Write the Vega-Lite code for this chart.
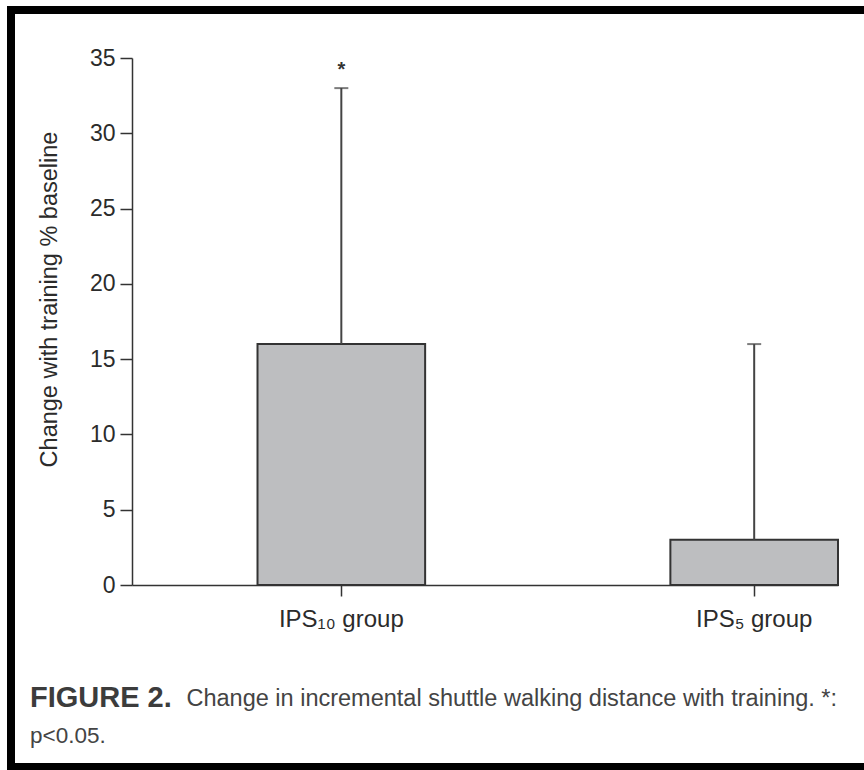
{
  "$schema": "https://vega.github.io/schema/vega-lite/v6.json",
  "autosize": {"type": "none"},
  "padding": {"left": 11, "top": 10, "right": 0, "bottom": 5},
  "width": 900,
  "height": 757,
  "background": "white",
  "config": {
    "font": "Liberation Sans",
    "view": {"stroke": "black", "strokeWidth": 8, "fill": "white"}
  },
  "title": {
    "text": "FIGURE 2.",
    "subtitle": "p<0.05.",
    "orient": "bottom",
    "anchor": "start",
    "frame": "group",
    "offset": -83,
    "dx": 19,
    "baseline": "top",
    "font": "Liberation Sans",
    "fontSize": 29,
    "fontWeight": "bold",
    "color": "#3c3c3c",
    "subtitleFont": "Liberation Sans",
    "subtitleFontSize": 22.5,
    "subtitleColor": "#444444",
    "subtitlePadding": 12
  },
  "data": {
    "values": [
      {"group": "IPS₁₀ group", "mean": 16, "upper": 33, "sig": "*"},
      {"group": "IPS₅ group", "mean": 3, "upper": 16, "sig": ""}
    ]
  },
  "encoding": {
    "x": {
      "field": "group",
      "type": "nominal",
      "sort": null,
      "scale": {"type": "band", "range": [121, 827], "paddingInner": 0.594, "paddingOuter": 0.152, "align": 1},
      "axis": {
        "title": "Change in incremental shuttle walking distance with training. *:",
        "orient": "bottom",
        "offset": -182,
        "labelAngle": 0,
        "labelFontSize": 24,
        "labelColor": "#2b2b2b",
        "labelPadding": 11,
        "tickSize": 11,
        "tickColor": "#333333",
        "tickWidth": 1.5,
        "domainColor": "#333333",
        "domainWidth": 1.5,
        "titleX": 175,
        "titleY": 120,
        "titleAlign": "left",
        "titleAnchor": "start",
        "titleBaseline": "alphabetic",
        "titleFontSize": 23.5,
        "titleFontWeight": "normal",
        "titleColor": "#444444"
      }
    }
  },
  "layer": [
    {
      "mark": {"type": "bar", "fill": "#bdbec0", "stroke": "#333333", "strokeWidth": 2},
      "encoding": {
        "y": {
          "field": "mean",
          "type": "quantitative",
          "scale": {"domain": [0, 35], "nice": false, "range": [575, 48]},
          "axis": {
            "title": "Change with training % baseline",
            "values": [0, 5, 10, 15, 20, 25, 30, 35],
            "offset": -121,
            "grid": false,
            "tickSize": 12,
            "tickColor": "#333333",
            "tickWidth": 1.5,
            "domainColor": "#333333",
            "domainWidth": 1.5,
            "labelFontSize": 23,
            "labelColor": "#2b2b2b",
            "labelPadding": 5,
            "titleFontSize": 23.5,
            "titleFontWeight": "normal",
            "titleColor": "#2b2b2b",
            "titleX": -83,
            "titleY": 289,
            "titleAngle": -90,
            "titleBaseline": "middle",
            "titleAlign": "center"
          }
        }
      }
    },
    {
      "mark": {"type": "rule", "color": "#444444", "strokeWidth": 2},
      "encoding": {
        "y": {"field": "mean", "type": "quantitative"},
        "y2": {"field": "upper"}
      }
    },
    {
      "mark": {"type": "tick", "color": "#444444", "thickness": 2, "size": 14},
      "encoding": {
        "y": {"field": "upper", "type": "quantitative"}
      }
    },
    {
      "mark": {"type": "text", "fontSize": 20, "fontWeight": "bold", "color": "#333333", "dy": -18},
      "encoding": {
        "y": {"field": "upper", "type": "quantitative"},
        "text": {"field": "sig"}
      }
    }
  ]
}
